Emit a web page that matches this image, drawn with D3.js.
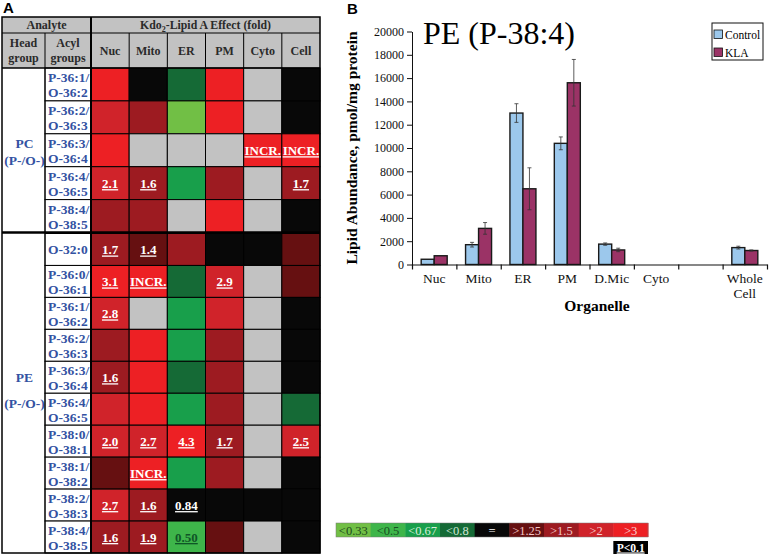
<!DOCTYPE html>
<html>
<head>
<meta charset="utf-8">
<script src="https://cdn.jsdelivr.net/npm/d3@7/dist/d3.min.js"></script>
<style>
  body { margin: 0; background: #fff; }
  svg text { font-family: "Liberation Serif", "Times New Roman", serif; }
</style>
</head>
<body>
<svg id="fig" width="769" height="556"></svg>
<script>
'use strict';

// ---- panel A data ----
var columns = ['Nuc', 'Mito', 'ER', 'PM', 'Cyto', 'Cell'];

var pcRows = ['P-36:1/O-36:2', 'P-36:2/O-36:3', 'P-36:3/O-36:4', 'P-36:4/O-36:5', 'P-38:4/O-38:5'];
var pcCells = [
  ['r3', 'eq', 'g08', 'r3', 'na', 'eq'],
  ['r2', 'r15', 'g033', 'r3', 'na', 'eq'],
  ['r3', 'na', 'na', 'na', 'r3', 'r3'],
  ['r2', 'r15', 'g067', 'r15', 'na', 'r15'],
  ['r15', 'r15', 'na', 'r3', 'na', 'eq']
];
var pcText = [
  ['', '', '', '', '', ''],
  ['', '', '', '', '', ''],
  ['', '', '', '', 'INCR.', 'INCR.'],
  ['2.1', '1.6', '', '', '', '1.7'],
  ['', '', '', '', '', '']
];

var peRows = ['O-32:0', 'P-36:0/O-36:1', 'P-36:1/O-36:2', 'P-36:2/O-36:3', 'P-36:3/O-36:4',
  'P-36:4/O-36:5', 'P-38:0/O-38:1', 'P-38:1/O-38:2', 'P-38:2/O-38:3', 'P-38:4/O-38:5'];
var peCells = [
  ['r15', 'r125', 'r15', 'eq', 'eq', 'r125'],
  ['r3', 'r3', 'g08', 'r2', 'na', 'r125'],
  ['r2', 'na', 'g067', 'r2', 'na', 'eq'],
  ['r15', 'r3', 'g067', 'r15', 'na', 'eq'],
  ['r15', 'r3', 'g08', 'r15', 'na', 'eq'],
  ['r2', 'r3', 'g067', 'r15', 'na', 'g08'],
  ['r2', 'r2', 'r3', 'r15', 'na', 'r2'],
  ['r125', 'r3', 'g067', 'r15', 'na', 'eq'],
  ['r2', 'r15', 'eq', 'eq', 'eq', 'eq'],
  ['r15', 'r15', 'g05', 'r125', 'na', 'eq']
];
var peText = [
  ['1.7', '1.4', '', '', '', ''],
  ['3.1', 'INCR.', '', '2.9', '', ''],
  ['2.8', '', '', '', '', ''],
  ['', '', '', '', '', ''],
  ['1.6', '', '', '', '', ''],
  ['', '', '', '', '', ''],
  ['2.0', '2.7', '4.3', '1.7', '', '2.5'],
  ['', 'INCR.', '', '', '', ''],
  ['2.7', '1.6', '0.84', '', '', ''],
  ['1.6', '1.9', '0.50', '', '', '']
];

var legendKeys = ['g033', 'g05', 'g067', 'g08', 'eq', 'r125', 'r15', 'r2', 'r3'];
var legendLabels = ['<0.33', '<0.5', '<0.67', '<0.8', '=', '>1.25', '>1.5', '>2', '>3'];

// ---- panel B data ----
var organelles = ['Nuc', 'Mito', 'ER', 'PM', 'D.Mic', 'Cyto', '', 'Whole Cell'];
var series = ['Control', 'KLA'];
var controlMean = [450, 1700, 13000, 10400, 1750, 0, 0, 1450];
var controlErr = [0, 200, 800, 550, 100, 0, 0, 120];
var klaMean = [750, 3100, 6500, 15600, 1250, 0, 0, 1200];
var klaErr = [0, 500, 1800, 2000, 150, 0, 0, 50];
var yTicks = d3.range(0, 20001, 2000);

// ---- styles ----
var palette = {
  r3: '#ed2024', r2: '#d0232a', r15: '#9d1b21', r125: '#661011', eq: '#080808',
  g08: '#156a36', g067: '#189f4b', g05: '#3eb54a', g033: '#71bf45', na: '#c2c2c2'
};
var legendInk = {
  g033: '#1d4a1d', g05: '#174d22', g067: '#d8eedb', g08: '#cfe6d4', eq: '#ffffff',
  r125: '#f2c6c6', r15: '#f2c6c6', r2: '#f7cfcf', r3: '#f9d4d4'
};
var seriesColor = { Control: '#9cc8ec', KLA: '#9b3366' };
var blue = '#3352a2', headInk = '#2a2a2a', headFill = '#c2c2c2';

var svg = d3.select('#fig');

// ================= Panel A =================
var tbl = svg.append('g').attr('class', 'table');
var tLeft = 2, tRight = 320, tTop = 17, hdr1 = 33, hdr2 = 68, sep = 232.5, tBottom = 553;
var headX = 45, acylX = 91;

var x = d3.scaleBand().domain(columns).range([acylX, tRight]);
var yPC = d3.scaleBand().domain(pcRows).range([hdr2, sep]);
var yPE = d3.scaleBand().domain(peRows).range([sep + 1, tBottom]);

// header background
tbl.append('rect').attr('x', tLeft).attr('y', tTop).attr('width', tRight - tLeft).attr('height', hdr2 - tTop)
  .attr('fill', headFill);

function section(rows, cells, texts, yb, label, off1, off2) {
  var g = tbl.append('g');
  // head group cell
  g.append('rect').attr('x', tLeft).attr('y', yb.range()[0]).attr('width', headX - tLeft)
    .attr('height', yb.range()[1] - yb.range()[0]).attr('fill', '#fff');
  var mid = (yb.range()[0] + yb.range()[1]) / 2;
  g.append('text').attr('x', (tLeft + headX) / 2 + 1).attr('y', mid + off1).attr('text-anchor', 'middle')
    .attr('font-size', 13.5).attr('font-weight', 'bold').attr('fill', blue).text(label);
  g.append('text').attr('x', (tLeft + headX) / 2 + 1).attr('y', mid + off2).attr('text-anchor', 'middle')
    .attr('font-size', 13.5).attr('font-weight', 'bold').attr('fill', blue).text('(P-/O-)');

  rows.forEach(function (r, i) {
    var y0 = yb(r), h = yb.bandwidth();
    g.append('rect').attr('x', headX).attr('y', y0).attr('width', acylX - headX).attr('height', h)
      .attr('fill', '#fff').attr('stroke', '#000').attr('stroke-width', 1);
    var parts = r.split('/');
    if (parts.length > 1) {
      g.append('text').attr('x', headX + 3).attr('y', y0 + 14).attr('font-size', 13.5)
        .attr('font-weight', 'bold').attr('fill', blue).text(parts[0] + '/');
      g.append('text').attr('x', headX + 3).attr('y', y0 + 29).attr('font-size', 13.5)
        .attr('font-weight', 'bold').attr('fill', blue).text(parts[1]);
    } else {
      g.append('text').attr('x', headX + 3).attr('y', y0 + h / 2 + 5).attr('font-size', 13.5)
        .attr('font-weight', 'bold').attr('fill', blue).text(r);
    }

    g.selectAll(null)
      .data(cells[i])
      .enter().append('rect')
      .attr('x', function (d, j) { return x(columns[j]); })
      .attr('y', y0)
      .attr('width', x.bandwidth())
      .attr('height', h)
      .attr('fill', function (d) { return palette[d]; })
      .attr('stroke', '#000')
      .attr('stroke-width', 1);

    var labels = texts[i].map(function (t, j) { return { t: t, col: columns[j], k: cells[i][j] }; })
      .filter(function (d) { return d.t !== ''; });
    g.selectAll(null)
      .data(labels)
      .enter().append('text')
      .attr('x', function (d) { return x(d.col) + x.bandwidth() / 2; })
      .attr('y', y0 + h / 2 + 5)
      .attr('text-anchor', 'middle')
      .attr('font-size', 13)
      .attr('font-weight', 'bold')
      .attr('text-decoration', 'underline')
      .attr('fill', function (d) { return d.k === 'g05' ? '#0f5527' : '#fff'; })
      .text(function (d) { return d.t; });
  });
}

section(pcRows, pcCells, pcText, yPC, 'PC', -2, 15);
section(peRows, peCells, peText, yPE, 'PE', -11, 15);

// header grid and text
tbl.append('line').attr('x1', tLeft).attr('x2', tRight).attr('y1', hdr1).attr('y2', hdr1).attr('stroke', '#000');
tbl.append('line').attr('x1', tLeft).attr('x2', tRight).attr('y1', hdr2).attr('y2', hdr2).attr('stroke', '#000').attr('stroke-width', 1.5);
tbl.append('line').attr('x1', headX).attr('x2', headX).attr('y1', hdr1).attr('y2', tBottom).attr('stroke', '#000');
columns.forEach(function (c) {
  tbl.append('line').attr('x1', x(c)).attr('x2', x(c)).attr('y1', hdr1).attr('y2', hdr2).attr('stroke', '#000');
  tbl.append('text').attr('x', x(c) + x.bandwidth() / 2).attr('y', 55).attr('text-anchor', 'middle')
    .attr('font-size', 12).attr('font-weight', 'bold').attr('fill', headInk).text(c);
});
tbl.append('text').attr('x', (tLeft + acylX) / 2).attr('y', 29).attr('text-anchor', 'middle')
  .attr('font-size', 12).attr('font-weight', 'bold').attr('fill', headInk).text('Analyte');
var kdo = tbl.append('text').attr('x', (acylX + tRight) / 2).attr('y', 29).attr('text-anchor', 'middle')
  .attr('font-size', 11.8).attr('font-weight', 'bold').attr('fill', headInk);
kdo.append('tspan').text('Kdo');
kdo.append('tspan').attr('font-size', 8).attr('dy', 3).text('2');
kdo.append('tspan').attr('dy', -3).text('-Lipid A Effect (fold)');
[['Head', 'group', (tLeft + headX) / 2], ['Acyl', 'groups', (headX + acylX) / 2]].forEach(function (t) {
  tbl.append('text').attr('x', t[2]).attr('y', 47).attr('text-anchor', 'middle')
    .attr('font-size', 12).attr('font-weight', 'bold').attr('fill', headInk).text(t[0]);
  tbl.append('text').attr('x', t[2]).attr('y', 62).attr('text-anchor', 'middle')
    .attr('font-size', 12).attr('font-weight', 'bold').attr('fill', headInk).text(t[1]);
});

// double separators and outer border
tbl.append('line').attr('x1', acylX).attr('x2', acylX).attr('y1', tTop).attr('y2', tBottom)
  .attr('stroke', '#000').attr('stroke-width', 2);
tbl.append('line').attr('x1', tLeft).attr('x2', tRight).attr('y1', sep).attr('y2', sep)
  .attr('stroke', '#000').attr('stroke-width', 2.5);
tbl.append('rect').attr('x', tLeft).attr('y', tTop).attr('width', tRight - tLeft).attr('height', tBottom - tTop)
  .attr('fill', 'none').attr('stroke', '#000').attr('stroke-width', 1.5);

svg.append('text').attr('x', 3).attr('y', 13).attr('font-size', 15).attr('font-weight', 'bold')
  .style('font-family', 'Liberation Sans, Arial, sans-serif').text('A');

// colour key
var lx = d3.scaleBand().domain(legendKeys).range([336, 648]);
var key = svg.append('g').attr('class', 'key');
key.selectAll('rect')
  .data(legendKeys)
  .enter().append('rect')
  .attr('x', function (d) { return lx(d); })
  .attr('y', 523)
  .attr('width', lx.bandwidth() + 0.5)
  .attr('height', 14)
  .attr('fill', function (d) { return palette[d]; });
key.selectAll('text')
  .data(legendKeys)
  .enter().append('text')
  .attr('x', function (d) { return lx(d) + lx.bandwidth() / 2; })
  .attr('y', 534.5)
  .attr('text-anchor', 'middle')
  .attr('font-size', 12.5)
  .attr('fill', function (d) { return legendInk[d]; })
  .text(function (d, i) { return legendLabels[i]; });
key.append('rect').attr('x', 336).attr('y', 523).attr('width', 312).attr('height', 14)
  .attr('fill', 'none').attr('stroke', '#777').attr('stroke-width', 0.5);
key.append('rect').attr('x', lx('r3')).attr('y', 541).attr('width', 648 - lx('r3')).attr('height', 13)
  .attr('fill', '#000');
key.append('text').attr('x', (lx('r3') + 648) / 2).attr('y', 551.5).attr('text-anchor', 'middle')
  .attr('font-size', 11.5).attr('font-weight', 'bold').attr('text-decoration', 'underline')
  .attr('fill', '#fff').text('P<0.1');

// ================= Panel B =================
var chart = svg.append('g').attr('class', 'bars');
var xB = d3.scaleBand().domain(organelles).range([412, 767]);
var xS = d3.scaleBand().domain(series).range([xB.bandwidth() / 2 - 13, xB.bandwidth() / 2 + 13]);
var yB = d3.scaleLinear().domain([0, 20000]).range([264.5, 31.5]);

var barData = [];
organelles.forEach(function (o, i) {
  barData.push({ org: o, s: 'Control', v: controlMean[i], e: controlErr[i] });
  barData.push({ org: o, s: 'KLA', v: klaMean[i], e: klaErr[i] });
});
barData = barData.filter(function (d) { return d.v > 0; });

chart.selectAll('rect.bar')
  .data(barData)
  .enter().append('rect')
  .attr('class', 'bar')
  .attr('x', function (d) { return xB(d.org) + xS(d.s); })
  .attr('y', function (d) { return yB(d.v); })
  .attr('width', xS.bandwidth())
  .attr('height', function (d) { return yB(0) - yB(d.v); })
  .attr('fill', function (d) { return seriesColor[d.s]; })
  .attr('stroke', '#1a1a1a')
  .attr('stroke-width', 1.4);

var err = chart.selectAll('g.err')
  .data(barData.filter(function (d) { return d.e > 0; }))
  .enter().append('g')
  .attr('class', 'err')
  .attr('stroke', '#333')
  .attr('stroke-width', 0.8);
err.append('line')
  .attr('x1', function (d) { return xB(d.org) + xS(d.s) + xS.bandwidth() / 2; })
  .attr('x2', function (d) { return xB(d.org) + xS(d.s) + xS.bandwidth() / 2; })
  .attr('y1', function (d) { return yB(d.v + d.e); })
  .attr('y2', function (d) { return yB(d.v - d.e); });
[1, -1].forEach(function (sign) {
  err.append('line')
    .attr('x1', function (d) { return xB(d.org) + xS(d.s) + xS.bandwidth() / 2 - 2; })
    .attr('x2', function (d) { return xB(d.org) + xS(d.s) + xS.bandwidth() / 2 + 2; })
    .attr('y1', function (d) { return yB(d.v + sign * d.e); })
    .attr('y2', function (d) { return yB(d.v + sign * d.e); });
});

// axes
var yAxis = d3.axisLeft(yB).tickValues(yTicks).tickFormat(d3.format('d'))
  .tickSize(5).tickSizeOuter(0).tickPadding(3);
var yg = chart.append('g').attr('transform', 'translate(412,0)').call(yAxis);
yg.attr('font-family', null);
yg.selectAll('text').attr('font-size', 12).attr('fill', '#111');
yg.selectAll('line, path').attr('stroke', '#111');

var xEdges = d3.scaleLinear().domain([0, organelles.length]).range(xB.range());
var xEdgeAxis = d3.axisBottom(xEdges).tickValues(d3.range(0, organelles.length + 1)).tickFormat('')
  .tickSize(5).tickSizeOuter(0);
var xg = chart.append('g').attr('transform', 'translate(0,264.5)').call(xEdgeAxis);
xg.selectAll('line, path').attr('stroke', '#111').attr('stroke-width', 1.2);

var xLab = chart.append('g').attr('transform', 'translate(0,264.5)')
  .call(d3.axisBottom(xB).tickSize(0).tickSizeOuter(0));
xLab.attr('font-family', null);
xLab.select('.domain').remove();
xLab.selectAll('text')
  .attr('y', 18.5).attr('dy', null)
  .attr('font-size', 13.5)
  .attr('fill', '#111')
  .each(function (d) {
    var words = d.split(' ');
    if (words.length > 1) {
      var t = d3.select(this).text(null);
      words.forEach(function (w, k) {
        t.append('tspan').attr('x', 0).attr('dy', k ? 15 : 0).text(w);
      });
    }
  });

chart.append('text').attr('x', 597).attr('y', 311).attr('text-anchor', 'middle')
  .attr('font-size', 15.5).attr('font-weight', 'bold').text('Organelle');
chart.append('text').attr('transform', 'translate(357,148) rotate(-90)').attr('text-anchor', 'middle')
  .attr('font-size', 15.5).attr('font-weight', 'bold').text('Lipid Abundance, pmol/mg protein');

chart.append('text').attr('x', 423).attr('y', 44).attr('font-size', 32).text('PE (P-38:4)');

// legend
var leg = chart.append('g').attr('transform', 'translate(712,23)');
leg.append('rect').attr('width', 51).attr('height', 37).attr('fill', '#fff').attr('stroke', '#111').attr('stroke-width', 1);
series.forEach(function (s, i) {
  leg.append('rect').attr('x', 2).attr('y', 7 + i * 18).attr('width', 8.5).attr('height', 8.5)
    .attr('fill', seriesColor[s]).attr('stroke', '#111').attr('stroke-width', 0.8);
  leg.append('text').attr('x', 13).attr('y', 15.5 + i * 18).attr('font-size', 11.5).text(s);
});

svg.append('text').attr('x', 347).attr('y', 14).attr('font-size', 15).attr('font-weight', 'bold')
  .style('font-family', 'Liberation Sans, Arial, sans-serif').text('B');
</script>
</body>
</html>
